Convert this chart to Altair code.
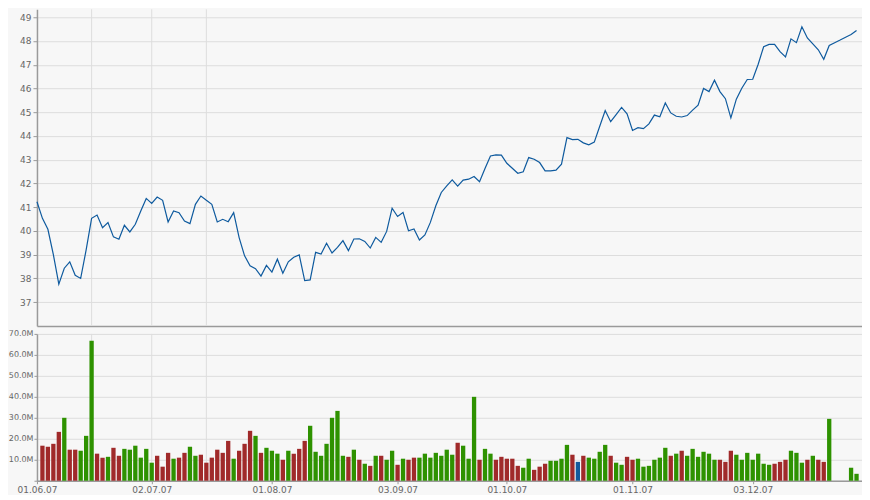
import altair as alt
import pandas as pd

# trading-day index 0 = 01.06.07 ... 150 = 28.12.07
price = [41.23, 40.53, 40.07, 39.0, 37.76, 38.43, 38.70, 38.13, 38.0, 39.2,
         40.53, 40.67, 40.14, 40.35, 39.75, 39.65, 40.24, 39.96, 40.28, 40.84,
         41.37, 41.16, 41.43, 41.29, 40.38, 40.84, 40.77, 40.42, 40.31, 41.12,
         41.47, 41.29, 41.12, 40.38, 40.49, 40.39, 40.77, 39.72, 38.95, 38.53,
         38.41, 38.10, 38.55, 38.27, 38.81, 38.22, 38.70, 38.89, 38.99, 37.91,
         37.94, 39.10, 39.03, 39.48, 39.07, 39.31, 39.59, 39.17, 39.66, 39.67,
         39.56, 39.28, 39.73, 39.52, 39.98, 40.96, 40.61, 40.78, 40.01, 40.08,
         39.62, 39.83, 40.36, 41.06, 41.62, 41.90, 42.15, 41.89, 42.14, 42.18,
         42.29, 42.07, 42.63, 43.16, 43.20, 43.19, 42.85, 42.64, 42.43, 42.49,
         43.09, 43.02, 42.88, 42.53, 42.53, 42.56, 42.81, 43.93, 43.85, 43.86,
         43.71, 43.63, 43.74, 44.41, 45.07, 44.60, 44.90, 45.20, 44.93, 44.23,
         44.35, 44.31, 44.51, 44.88, 44.81, 45.39, 44.97, 44.83, 44.80, 44.86,
         45.09, 45.30, 46.00, 45.87, 46.35, 45.87, 45.57, 44.76, 45.55, 46.01,
         46.38, 46.39, 47.02, 47.76, 47.86, 47.86, 47.55, 47.33, 48.09, 47.93,
         48.60, 48.13, 47.88, 47.63, 47.23, 47.81, 47.93, 48.04, 48.16, 48.27,
         48.44]

# volume in millions (None = no bar)
volume = [None, 16.7, 16.2, 17.6, 23.3, 30.0, 14.8, 14.8, 14.3, 21.4,
          66.7, 12.9, 11.0, 11.4, 15.7, 11.9, 15.2, 14.8, 16.7, 11.0,
          15.2, 8.6, 11.9, 6.7, 13.3, 10.5, 11.0, 13.3, 16.2, 11.9,
          12.4, 8.6, 11.0, 14.8, 13.3, 19.0, 10.5, 14.3, 17.6, 23.8,
          21.4, 13.3, 15.7, 14.3, 12.9, 10.0, 14.3, 12.9, 15.2, 19.0,
          26.2, 13.8, 11.9, 17.6, 30.0, 33.3, 11.9, 11.4, 14.8, 10.0,
          8.1, 7.1, 11.9, 11.9, 10.0, 14.3, 7.6, 10.5, 10.0, 11.0,
          11.0, 12.9, 11.0, 13.3, 11.9, 14.8, 12.4, 18.1, 16.7, 10.5,
          40.0, 10.0, 15.2, 12.9, 10.0, 11.4, 10.5, 10.5, 7.1, 6.2,
          10.5, 5.2, 6.7, 8.1, 9.5, 9.5, 10.5, 17.1, 12.4, 9.0,
          11.9, 11.0, 10.5, 13.8, 17.1, 11.9, 8.6, 7.6, 11.4, 10.0,
          10.5, 6.7, 7.1, 10.0, 11.0, 15.7, 11.9, 12.9, 14.3, 11.9,
          15.2, 11.4, 13.8, 12.9, 10.0, 10.0, 9.0, 14.3, 12.4, 10.0,
          13.3, 10.0, 12.9, 8.1, 7.6, 8.1, 9.0, 10.0, 14.3, 13.3,
          8.6, 10.0, 11.9, 10.0, 9.0, 29.5, None, None, None, 6.2,
          3.3]

# bar colour class: d = down (red), u = up (green), n = neutral (blue), - = none
direction = (
    "- d d d d u d d u u "
    "u d d u d d u u u u "
    "u u d d d u d d u u "
    "d d d d d d u d d d "
    "u d u u u d u d d d "
    "u u u u u u u d u d "
    "u d u d u u d u d d "
    "u u u u u u u d u u "
    "u d u u d d d d d u "
    "u d d d u u u u d n "
    "d u u u u d u u d d "
    "u u u u u u d u d u "
    "u u u u u d d d u u "
    "u u u u u d d d u u "
    "u d u d d u - - - u "
    "u"
).split()

tick_idx = [0, 21, 43, 66, 86, 109, 131]
tick_labels = ["01.06.07", "02.07.07", "01.08.07", "03.09.07",
               "01.10.07", "01.11.07", "03.12.07"]
vgrid_idx = [10, 21, 31]

n = len(price)
df = pd.DataFrame({"i": list(range(n)), "price": price,
                   "volume": volume, "dir": direction[:n]})
vol_df = df.dropna(subset=["volume"])
grid_df = pd.DataFrame({"i": vgrid_idx})

label_expr = ""
for t, l in zip(tick_idx, tick_labels):
    label_expr += f"datum.value == {t} ? '{l}' : "
label_expr += "''"

FONT = "DejaVu Sans"
W = 826
EXT = 28
xscale = alt.Scale(domain=[0, 151], nice=False, zero=False, padding=0)

vrule = alt.Chart(grid_df).mark_rule(color="#dddddd", strokeWidth=1).encode(
    x=alt.X("i:Q", scale=xscale)
)

price_line = alt.Chart(df).mark_line(color="#0e5a9e", strokeWidth=1.2).encode(
    x=alt.X("i:Q", scale=xscale,
            axis=alt.Axis(labels=False, ticks=False, grid=False, title=None,
                          domainColor="#9a9a9a", domainWidth=1.5)),
    y=alt.Y("price:Q", scale=alt.Scale(domain=[36, 49.336], nice=False, zero=False),
            axis=alt.Axis(values=list(range(37, 50)), format="d", title=None,
                          tickSize=4, labelPadding=2, labelFontSize=9,
                          minExtent=EXT, maxExtent=EXT,
                          gridColor="#dddddd", domainColor="#9a9a9a",
                          domainWidth=1.5, tickColor="#9a9a9a")),
)

top = alt.layer(vrule, price_line).properties(width=W, height=317)

bars = alt.Chart(vol_df).mark_bar(size=4.3).encode(
    x=alt.X("i:Q", scale=xscale,
            axis=alt.Axis(values=tick_idx, labelExpr=label_expr, title=None,
                          grid=False, tickSize=3, labelFontSize=9,
                          labelFlush=False, labelOverlap=False,
                          labelPadding=2, domainColor="#9a9a9a",
                          domainWidth=1.5, tickColor="#9a9a9a")),
    y=alt.Y("volume:Q", scale=alt.Scale(domain=[0, 70], nice=False),
            axis=alt.Axis(values=[0, 10, 20, 30, 40, 50, 60, 70],
                          labelExpr="datum.value == 0 ? '' : format(datum.value, '.1f') + 'M'",
                          title=None, tickSize=3, labelPadding=1, labelFontSize=8,
                          minExtent=EXT, maxExtent=EXT,
                          gridColor="#dddddd", domainColor="#9a9a9a",
                          domainWidth=1.5, tickColor="#9a9a9a")),
    color=alt.Color("dir:N", legend=None,
                    scale=alt.Scale(domain=["d", "u", "n"],
                                    range=["#a02a2a", "#2e9200", "#135a9c"])),
)

bottom = alt.layer(vrule, bars).properties(width=W, height=147)

chart = alt.vconcat(top, bottom, spacing=3).properties(
    background="#f7f7f7", padding=0
).configure_view(stroke=None).configure_axis(
    labelFont=FONT, labelColor="#666666"
)

chart.save("out.html", embed_options={"renderer": "svg", "actions": False})
